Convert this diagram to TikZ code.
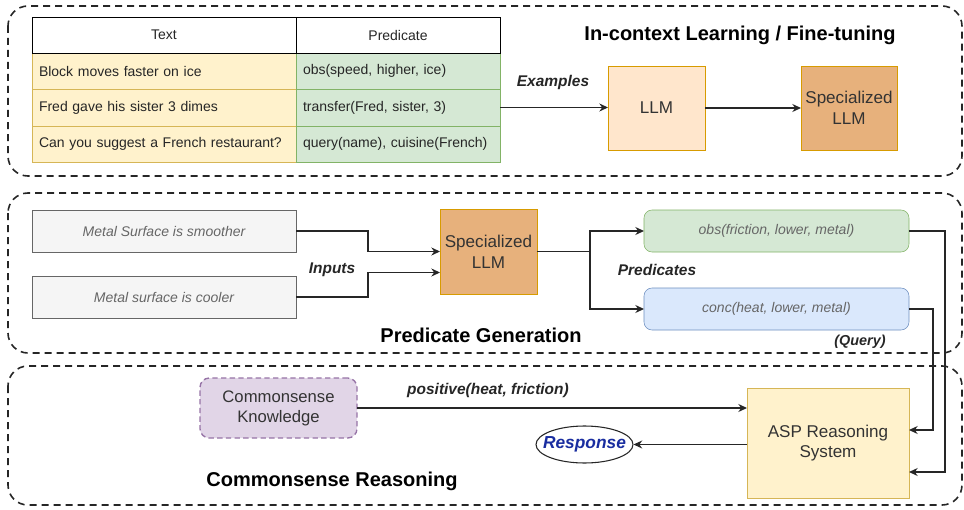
\documentclass[tikz,border=0pt]{standalone}
\usepackage{fontspec}
\setmainfont{Liberation Sans}
\usetikzlibrary{arrows.meta,shapes.geometric}
\definecolor{yfill}{HTML}{FFF2CC}\definecolor{yline}{HTML}{D6B656}
\definecolor{gfill}{HTML}{D5E8D4}\definecolor{gline}{HTML}{82B366}
\definecolor{bfill}{HTML}{DAE8FC}\definecolor{bline}{HTML}{6C8EBF}
\definecolor{ofill}{HTML}{FFE6CC}\definecolor{oline}{HTML}{D79B00}
\definecolor{sfill}{HTML}{E7B17C}
\definecolor{pfill}{HTML}{E1D5E7}\definecolor{pline}{HTML}{9673A6}
\definecolor{grfill}{HTML}{F5F5F5}\definecolor{grline}{HTML}{666666}
\definecolor{txt}{HTML}{333333}\definecolor{txtg}{HTML}{666666}
\definecolor{resp}{RGB}{25,45,160}
\tikzset{
  bx/.style 2 args={minimum width=#1*0.75pt, minimum height=#2*0.75pt, inner sep=0pt, outer sep=0pt, align=center},
  cell/.style 2 args={text width=#1*0.75pt-10.5pt, minimum height=#2*0.75pt, inner xsep=5.25pt, inner ysep=0pt, outer sep=0pt, align=left, font=\fontsize{10.5}{12}\selectfont, text=black!85},
  hcell/.style 2 args={minimum width=#1*0.75pt, minimum height=#2*0.75pt, inner sep=0pt, outer sep=0pt, draw=black, fill=white, font=\fontsize{10.5}{12}\selectfont, text=black!85},
  group/.style={draw=black!85, line width=1.2pt, dash pattern=on 5.25pt off 3.75pt, rounded corners=15pt},
  arr/.style={draw=black!85, line width=0.9pt, -{Stealth[length=6.5pt,width=6pt]}},
  lbl/.style={font=\fontsize{11.6}{13}\selectfont\bfseries\itshape, text=black!85, inner sep=0pt},
  ttl/.style={font=\fontsize{15}{17}\selectfont\bfseries, text=black, inner sep=0pt},
  big/.style={font=\fontsize{12.8}{15.5}\selectfont, text=txt},
  gtxt/.style={font=\fontsize{10.5}{12}\selectfont\itshape, text=txtg},
}
\begin{document}
\begin{tikzpicture}[x=0.75pt,y=-0.75pt]
\useasboundingbox (0,0) rectangle (964,510);
% group boxes
\draw[group] (8,6) rectangle (962,176);
\draw[group] (8,193) rectangle (962,353);
\draw[group] (8,366) rectangle (962,505);

% table
\node[cell={264}{36}, fill=yfill, draw=yline] (t1) at (164,71) {Block moves faster on ice};
\node[cell={264}{37}, fill=yfill, draw=yline] (t2) at (164,107.5) {Fred gave his sister 3 dimes};
\node[cell={264}{36}, fill=yfill, draw=yline] (t3) at (164,144) {Can you suggest a French restaurant?};
\node[cell={204}{36}, fill=gfill, draw=gline] (p1) at (398,71) {obs(speed, higher, ice)};
\node[cell={204}{37}, fill=gfill, draw=gline] (p2) at (398,107.5) {transfer(Fred, sister, 3)};
\node[cell={204}{36}, fill=gfill, draw=gline] (p3) at (398,144) {query(name), cuisine(French)};
\node[hcell={264}{36}] (h1) at (164,35) {Text};
\node[hcell={204}{36}] (h2) at (398,35) {Predicate};

\node[ttl] (title1) at (740,35) {In-context Learning / Fine-tuning};
\node[bx={97}{84}, fill=ofill, draw=oline, big] (llm) at (656.5,108) {LLM};
\node[bx={96}{84}, fill=sfill, draw=oline, big] (spec1) at (849,108) {Specialized\\LLM};
\draw[arr] (p2.east) -- (llm.west |- p2.east);
\node[lbl] (ex) at (553,83) {Examples};
\draw[arr] (llm.east) -- (spec1.west);

% predicate generation
\node[bx={264}{42}, fill=grfill, draw=grline, gtxt] (in1) at (164,231) {Metal Surface is smoother};
\node[bx={264}{42}, fill=grfill, draw=grline, gtxt] (in2) at (164,297) {Metal surface is cooler};
\node[bx={97}{85}, fill=sfill, draw=oline, big] (spec2) at (488.5,251.5) {Specialized\\LLM};
\draw[arr] (in1.east) -- ++(72,0) |- (spec2.west);
\draw[arr] (in2.east) -- ++(72,0) |- ([yshift=-15.75pt]spec2.west);
\node[lbl] (inputs) at (332,270) {Inputs};
\node[bx={265}{42}, fill=gfill, draw=gline, rounded corners=6pt, gtxt] (obs) at (776.5,231) {obs(friction, lower, metal)};
\node[bx={265}{42}, fill=bfill, draw=bline, rounded corners=6pt, gtxt] (conc) at (776.5,309) {conc(heat, lower, metal)};
\draw[arr] (spec2.east) -- ++(53,0) |- (obs.west);
\draw[arr] (spec2.east) -- ++(53,0) |- (conc.west);
\node[lbl] (preds) at (657,270) {Predicates};
\node[ttl] (title2) at (481,335) {Predicate Generation};
\node[lbl, font=\fontsize{10.8}{12}\selectfont\bfseries\itshape] (query) at (860,342) {(Query)};

% commonsense reasoning
\node[bx={162}{110}, fill=yfill, draw=yline, big] (asp) at (828,443) {ASP Reasoning\\System};
\draw[arr] (obs.east) -- ++(36,0) |- ([yshift=-21.75pt]asp.east);
\draw[arr] (conc.east) -- ++(24,0) |- ([yshift=9.75pt]asp.east);
\node[bx={157}{60}, fill=pfill, draw=pline, line width=1pt, dash pattern=on 4pt off 2.5pt, rounded corners=7pt, font=\fontsize{12.5}{15}\selectfont, text=txt] (ck) at (278.5,408) {Commonsense\\Knowledge};
\draw[arr] (ck.east) -- (asp.west |- ck.east);
\node[lbl] (pos) at (488,390) {positive(heat, friction)};
\node[ellipse, draw=black!85, fill=white, line width=0.8pt, minimum width=72.75pt, minimum height=27.75pt, inner xsep=-5.8pt, inner ysep=0pt, font=\fontsize{13}{15}\selectfont\bfseries\itshape, text=resp] (resp) at (584.5,444.5) {Response};
\draw[arr] (asp.west |- resp.east) -- (resp.east);
\node[ttl] (title3) at (332,481) {Commonsense Reasoning};
\end{tikzpicture}
\end{document}
